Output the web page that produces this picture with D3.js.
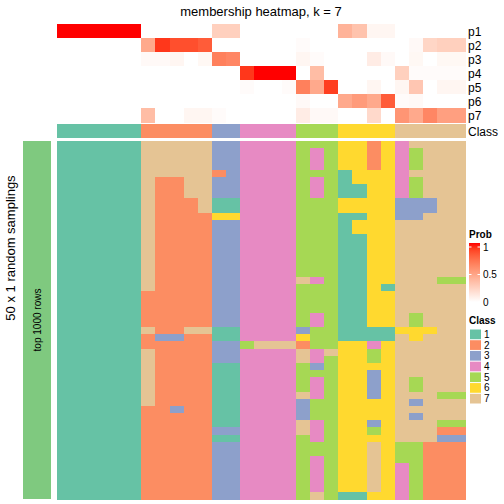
<!DOCTYPE html>
<html><head><meta charset="utf-8">
<script src="https://cdn.jsdelivr.net/npm/d3@7"></script>
<style>body{margin:0;background:#fff}svg{display:block}text{font-family:"Liberation Sans",Arial,sans-serif}</style>
</head><body>
<svg id="c" width="504" height="504"></svg>
<script>
// ---- data ----
const columnClass = [1,1,1,1,1,1, 2,2,2,2,2, 3,3, 4,4,4,4, 5,5,5, 6,6,6,6, 7,7,7,7,7];
const probLabels = ["p1","p2","p3","p4","p5","p6","p7"];
const p1 = [1,1,1,1,1,1, 0,0,0,0,0, 0.25,0.25, 0,0,0,0, 0,0,0, 0.4,0.32,0.05,0.05, 0,0,0,0,0];
const p2 = [0,0,0,0,0,0, 0.45,0.92,0.85,0.85,0.8, 0,0, 0,0,0,0, 0.02,0,0, 0,0,0,0, 0,0.03,0.22,0.25,0.25];
const p3 = [0,0,0,0,0,0, 0.03,0.03,0.05,0,0.04, 0.65,0.62, 0,0,0,0, 0.05,0.02,0, 0,0,0.1,0.03, 0,0.04,0,0.04,0.04];
const p4 = [0,0,0,0,0,0, 0,0,0,0,0, 0,0, 0.92,1,1,1, 0,0.35,0, 0,0,0,0, 0.25,0.02,0.02,0.02,0.02];
const p5 = [0,0,0,0,0,0, 0,0,0,0,0, 0,0, 0.02,0,0,0.02, 0.65,0.45,0.9, 0,0,0.05,0, 0.05,0.3,0,0.05,0.05];
const p6 = [0,0,0,0,0,0, 0,0,0,0,0, 0,0, 0,0,0,0, 0.03,0,0, 0.45,0.52,0.45,0.8, 0.02,0.03,0,0,0];
const p7 = [0,0,0,0,0,0, 0.35,0,0,0.05,0.05, 0.02,0, 0,0,0,0, 0.1,0.03,0.03, 0,0,0.2,0, 0.55,0.45,0.62,0.5,0.5];
const probRows = [p1,p2,p3,p4,p5,p6,p7];
// 50 random samplings: class of each column
const samplings = [
"11111177777334444555662647777",
"11111177777334444545662645777",
"11111177777334444545662645777",
"11111177777334444545662645777",
"11111177777234444555166647777",
"11111172277334444545166645777",
"11111172277334444545116645777",
"11111172277334444545116645777",
"11111172227114444555666633377",
"11111172227114444555666633377",
"11111172222664444555116633777",
"11111172222334444555166677777",
"11111172222334444555166677777",
"11111172222334444555116677777",
"11111172222334444555116677777",
"11111172222334444555116677777",
"11111172222334444555116677777",
"11111172222334444555116677777",
"11111172222334444555116677777",
"11111172222334444745116677755",
"11111172222334444555116177777",
"11111122222334444555116677777",
"11111122222334444555116677777",
"11111122222334444555116677777",
"11111122222334444545116675777",
"11111122222334444545116675777",
"11111172277114444355111166677",
"11111123322114444655111176777",
"11111122222335777255664677777",
"11111172222334444747665677777",
"11111172222334444745665677777",
"11111172222114444535666677777",
"11111172222114444555663677777",
"11111172222114444545663675777",
"11111172222114444545663675777",
"11111172222114444745663677755",
"11111172222114444355666673777",
"11111122322114444355666677777",
"11111122222114444355666673777",
"11111122222114444745663677755",
"11111122222334444745665677722",
"11111122222114444545666677733",
"11111122222334444555667655222",
"11111122222334444555667655222",
"11111122222334444545667655222",
"11111122222334444545667645222",
"11111122222334444545667645222",
"11111122222334444545667645222",
"11111122222334444545667645222",
"11111122222334444575116645222"
];
const classNames = ["1","2","3","4","5","6","7"];
const classColors = ["#66C2A5","#FC8D62","#8DA0CB","#E78AC3","#A6D854","#FFD92F","#E5C494"];
const probTicks = [0, 0.5, 1];

// ---- drawing ----
const svg = d3.select("#c");
const cols = d3.range(columnClass.length);
const x = d3.scaleBand().domain(cols).range([57, 465]);
const yTop = d3.scaleBand().domain(probLabels).range([24, 122]);
const yBot = d3.scaleBand().domain(d3.range(samplings.length)).range([141, 499]);
const probColor = d3.scaleLinear().domain([0,1]).range(["#ffffff","#ff0000"]).interpolate(d3.interpolateLab);
const classColor = d3.scaleOrdinal().domain(classNames).range(classColors);

svg.append("text").attr("x", 261).attr("y", 16).attr("text-anchor","middle")
  .attr("font-size", 13).text("membership heatmap, k = 7");

// probability heatmap
const topCells = [];
probRows.forEach((row, i) => row.forEach((v, j) => topCells.push({r: probLabels[i], c: j, v})));
svg.append("g").attr("shape-rendering","crispEdges").selectAll("rect").data(topCells).join("rect")
  .attr("x", d => x(d.c)).attr("y", d => yTop(d.r))
  .attr("width", x.bandwidth() + 0.5).attr("height", yTop.bandwidth() + 0.5)
  .attr("fill", d => probColor(d.v));
svg.append("g").selectAll("text").data(probLabels).join("text")
  .attr("x", 468).attr("y", d => yTop(d) + yTop.bandwidth()/2 + 4.5)
  .attr("font-size", 12).text(d => d);

// class annotation
svg.append("g").attr("shape-rendering","crispEdges").selectAll("rect").data(cols).join("rect")
  .attr("x", d => x(d)).attr("y", 124).attr("width", x.bandwidth() + 0.5).attr("height", 14)
  .attr("fill", d => classColor(String(columnClass[d])));
svg.append("text").attr("x", 468).attr("y", 135.5).attr("font-size", 12).text("Class");

// sampling heatmap
const botCells = [];
samplings.forEach((s, i) => s.split("").forEach((ch, j) => botCells.push({r: i, c: j, v: ch})));
svg.append("g").attr("shape-rendering","crispEdges").selectAll("rect").data(botCells).join("rect")
  .attr("x", d => x(d.c)).attr("y", d => yBot(d.r))
  .attr("width", x.bandwidth() + 0.5).attr("height", yBot.bandwidth() + 0.5)
  .attr("fill", d => classColor(d.v));

// left annotation
svg.append("rect").attr("x", 23).attr("y", 141).attr("width", 28).attr("height", 358).attr("fill", "#7FC97F");
svg.append("text").attr("transform", "translate(41,320) rotate(-90)").attr("text-anchor","middle")
  .attr("font-size", 10).text("top 1000 rows");
svg.append("text").attr("transform", "translate(15,248) rotate(-90)").attr("text-anchor","middle")
  .attr("font-size", 13).text("50 x 1 random samplings");

// Prob legend
svg.append("text").attr("x", 469).attr("y", 238).attr("font-size", 10).attr("font-weight","bold").text("Prob");
const defs = svg.append("defs");
const grad = defs.append("linearGradient").attr("id","pg").attr("x1",0).attr("y1",1).attr("x2",0).attr("y2",0);
d3.range(0, 1.01, 0.1).forEach(t => grad.append("stop").attr("offset", t).attr("stop-color", probColor(t)));
const yLeg = d3.scaleLinear().domain([0,1]).range([302, 247]);
svg.append("rect").attr("x", 469).attr("y", 243).attr("width", 11).attr("height", 59).attr("fill","url(#pg)");
probTicks.forEach(t => {
  svg.append("line").attr("x1",469).attr("x2",471.5).attr("y1",yLeg(t)).attr("y2",yLeg(t)).attr("stroke","#fff");
  svg.append("line").attr("x1",477.5).attr("x2",480).attr("y1",yLeg(t)).attr("y2",yLeg(t)).attr("stroke","#fff");
  svg.append("text").attr("x", 483).attr("y", yLeg(t) + 3.5).attr("font-size", 10).text(t === 0.5 ? "0.5" : String(t));
});

// Class legend
svg.append("text").attr("x", 469).attr("y", 324).attr("font-size", 10).attr("font-weight","bold").text("Class");
const yCls = d3.scaleBand().domain(classNames).range([329, 404]);
svg.append("g").selectAll("rect").data(classNames).join("rect")
  .attr("x", 470).attr("y", d => yCls(d) + 0.5).attr("width", 11).attr("height", yCls.bandwidth() - 1)
  .attr("fill", d => classColor(d));
svg.append("g").selectAll("text").data(classNames).join("text")
  .attr("x", 484).attr("y", d => yCls(d) + yCls.bandwidth()/2 + 3.5).attr("font-size", 10).text(d => d);
</script>
</body></html>
